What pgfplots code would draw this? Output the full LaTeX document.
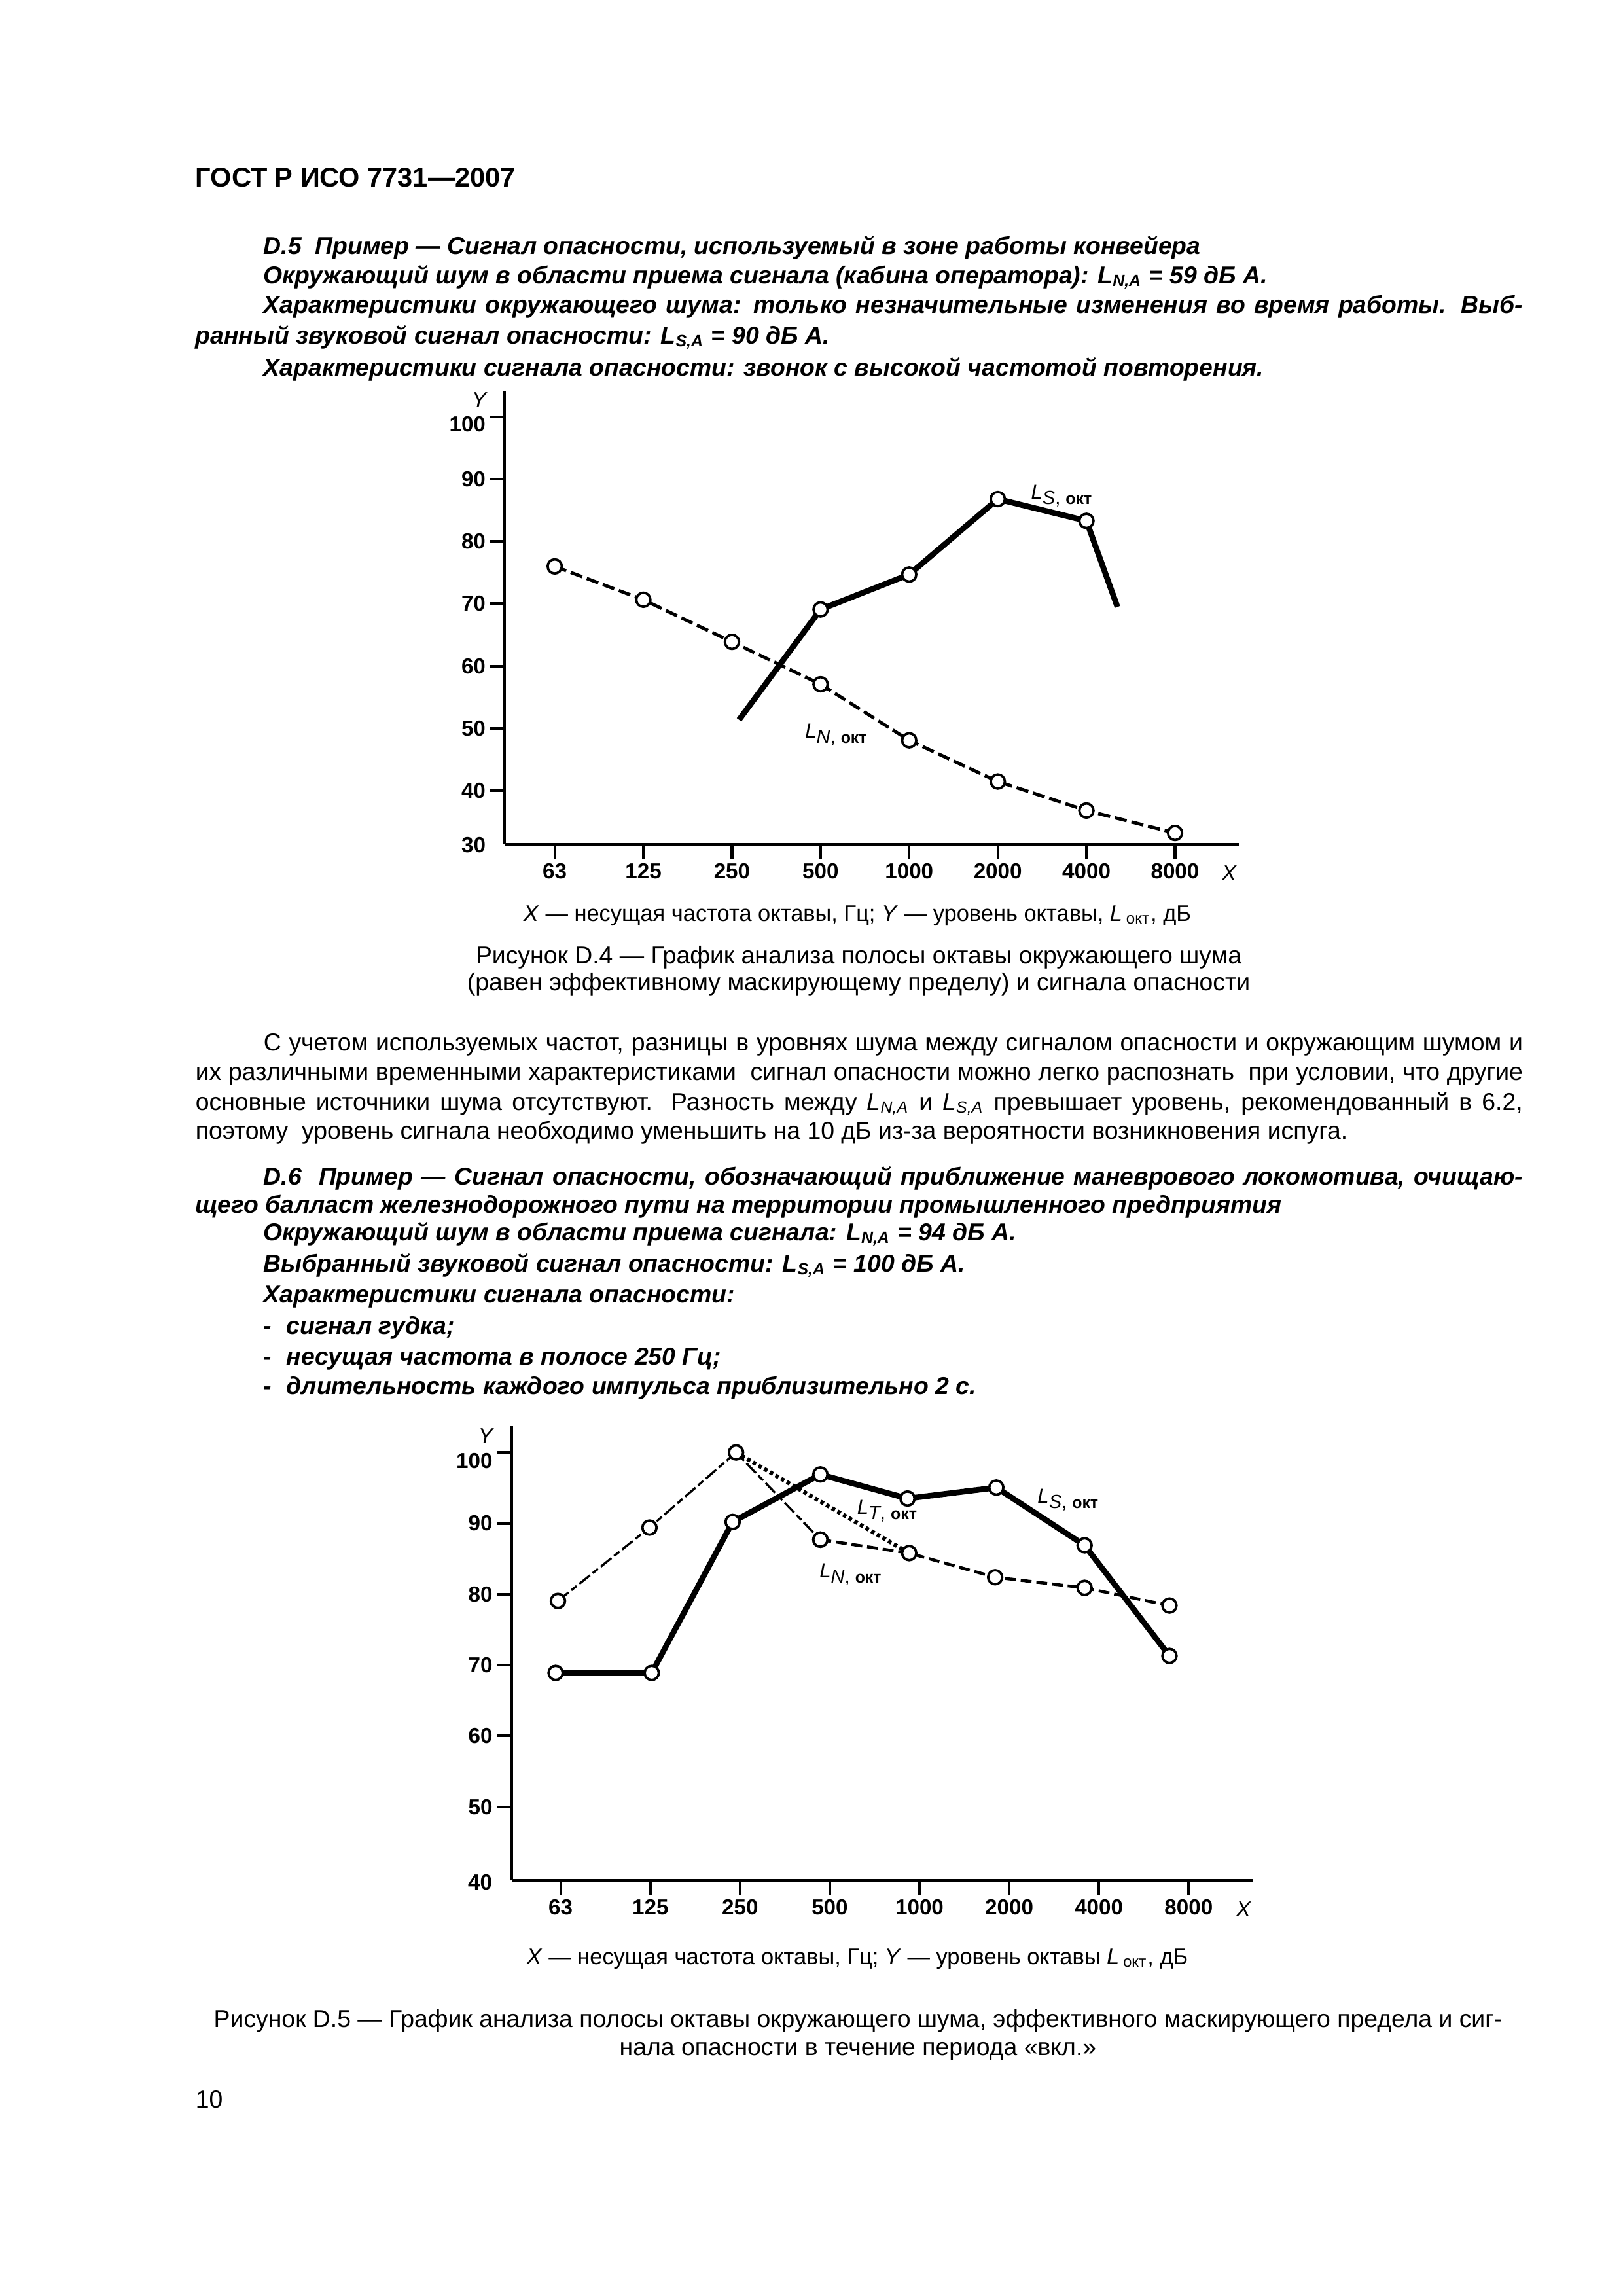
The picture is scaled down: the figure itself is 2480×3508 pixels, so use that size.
\documentclass[border=0pt]{standalone}
\usepackage{fontspec}
\setmainfont{Liberation Sans}
\usepackage{pgfplots}
\pgfplotsset{compat=1.18}

% one pixel of the 2480 x 3508 page
\newlength\pxu
\setlength\pxu{0.0846774mm}

\newcommand\bt{\fontsize{9}{11}\selectfont}
\newcommand\bbt{\fontsize{9}{11}\selectfont}
\newcommand\tl{\fontsize{8}{9}\selectfont\bfseries}
\newcommand\LNA{\textit{L}\textsubscript{\textit{N,A}}}
\newcommand\LSA{\textit{L}\textsubscript{\textit{S,A}}}
\newcommand\Lokt{\textit{L}\,\textsubscript{окт}}
\newcommand\Lab[1]{{\fontsize{7.5}{9}\selectfont\textit{L}}\raisebox{-8\pxu}{\fontsize{7}{8}\selectfont\textit{#1}, {\fontsize{6}{7}\selectfont\bfseries окт}}}

\pgfplotsset{
  gost/.style={
    scale only axis, axis lines=left, axis line style={-, line width=1pt},
    tick align=outside, major tick length=22\pxu,
    tick style={black, line width=1pt},
    tick label style={font=\tl, inner sep=1.5pt},
    xtick={0,...,7}, xticklabels={63,125,250,500,1000,2000,4000,8000},
    clip=false, set layers, mark layer=axis foreground,
  },
  circ/.style={mark=*, mark size=2.6pt, mark options={solid, fill=white, line width=0.9pt}},
}

\begin{document}
\begin{tikzpicture}[x=0.0846774mm, y=-0.0846774mm,
  gtx/.style={anchor=base west, inner sep=0pt, font=\bt},
  gbi/.style={anchor=base west, inner sep=0pt, font=\bbt\bfseries\itshape},
  gcap/.style={anchor=base, inner sep=0pt, font=\bt},
  glab/.style={anchor=base, inner sep=0pt, font=\fontsize{8}{9}\selectfont\itshape}]
\path (0,0) rectangle (2480,3508);

\node[anchor=base west, inner sep=0pt, font=\fontsize{10}{12}\selectfont\bfseries] at (298,285) {ГОСТ Р ИСО 7731—2007};

\node[gbi] at (402,388) {D.5~~Пример — Сигнал опасности, используемый в зоне работы конвейера};
\node[gbi] at (402,433) {Окружающий шум в области приема сигнала (кабина оператора): \LNA{} = 59 дБ А.};
\node[gbi] at (402,478) {\makebox[1924\pxu][s]{Характеристики окружающего шума: только незначительные изменения во время работы. Выб-}};
\node[gbi] at (298,525) {ранный звуковой сигнал опасности: \LSA{} = 90 дБ А.};
\node[gbi] at (402,574) {Характеристики сигнала опасности: звонок с высокой частотой повторения.};

% Figure D.4
\begin{axis}[gost, at={(771\pxu,-1290\pxu)}, anchor=south west,
  width=1122\pxu, height=693\pxu,
  xmin=-0.566, xmax=7.72, ymin=31.43, ymax=104.17,
  ytick={40,50,60,70,80,90}, yticklabels={40,50,60,70,80,90},
  extra y ticks={100}, extra y tick labels={100},
  extra y tick style={tick label style={yshift=-11\pxu}}]
\addplot[black, line width=1.2pt, dash pattern=on 4.5pt off 1.8pt, circ]
  coordinates {(0,76.0) (1,70.65) (2,63.9) (3,57.1) (4,48.1) (5,41.5) (6,36.85) (7,33.25)};
\addplot[black, line width=2.1pt, circ, mark indices={2,3,4,5}]
  coordinates {(2.08,51.4) (3,69.1) (4,74.7) (5,86.8) (6,83.3) (6.35,69.5)};
\node[anchor=base west, inner sep=0pt] at (axis cs:5.37,86.85) {\Lab{S}};
\node[anchor=base west, inner sep=0pt] at (axis cs:2.82,48.5) {\Lab{N}};
\end{axis}
\node[anchor=east, inner sep=0pt, font=\tl] at (743,1291) {30};
\node[glab] at (732,622) {Y};
\node[glab] at (1878,1345) {X};

\node[gcap, font=\fontsize{8.3}{10}\selectfont] at (1310,1407) {\textit{X} — несущая частота октавы, Гц; \textit{Y} — уровень октавы, \Lokt, дБ};
\node[gcap] at (1312,1472) {Рисунок D.4 — График анализа полосы октавы окружающего шума};
\node[gcap] at (1312,1513) {(равен эффективному маскирующему пределу) и сигнала опасности};

\node[gtx] at (402,1605) {\makebox[1924\pxu][s]{С учетом используемых частот, разницы в уровнях шума между сигналом опасности и окружающим шумом и}};
\node[gtx] at (298,1650) {\makebox[2028\pxu][s]{их различными временными характеристиками~ сигнал опасности можно легко распознать~ при условии, что другие}};
\node[gtx] at (298,1696) {\makebox[2028\pxu][s]{основные источники шума отсутствуют. Разность между \LNA{} и \LSA{} превышает уровень, рекомендованный в 6.2,}};
\node[gtx] at (298,1740) {поэтому~ уровень сигнала необходимо уменьшить на 10 дБ из-за вероятности возникновения испуга.};

\node[gbi] at (402,1810) {\makebox[1924\pxu][s]{D.6~~Пример — Сигнал опасности, обозначающий приближение маневрового локомотива, очищаю-}};
\node[gbi] at (298,1853) {щего балласт железнодорожного пути на территории промышленного предприятия};
\node[gbi] at (402,1895) {Окружающий шум в области приема сигнала: \LNA{} = 94 дБ А.};
\node[gbi] at (402,1943) {Выбранный звуковой сигнал опасности: \LSA{} = 100 дБ А.};
\node[gbi] at (402,1990) {Характеристики сигнала опасности:};
\node[gbi] at (402,2038) {-}; \node[gbi] at (437,2038) {сигнал гудка;};
\node[gbi] at (402,2085) {-}; \node[gbi] at (437,2085) {несущая частота в полосе 250 Гц;};
\node[gbi] at (402,2130) {-}; \node[gbi] at (437,2130) {длительность каждого импульса приблизительно 2 с.};

% Figure D.5
\begin{axis}[gost, at={(781.7\pxu,-2873.3\pxu)}, anchor=south west,
  width=1133.3\pxu, height=695.3\pxu,
  xmin=-0.547, xmax=7.72, ymin=39.6, ymax=103.8,
  ytick={50,60,70,80,90}, yticklabels={50,60,70,80,90},
  extra y ticks={100}, extra y tick labels={100},
  extra y tick style={tick label style={yshift=-13\pxu}}]
\addplot[black, line width=0.8pt, dash pattern=on 5pt off 1.3pt on 2.5pt off 1.3pt, circ]
  coordinates {(-0.03,79.05) (0.99,89.4) (1.955,100) (2.895,87.7)};
\addplot[black, line width=1.1pt, dash pattern=on 4pt off 1.8pt, circ]
  coordinates {(2.895,87.7) (3.885,85.8) (4.843,82.4) (5.84,80.9) (6.786,78.4)};
\addplot[black, line width=1.5pt, dash pattern=on 1.3pt off 1.1pt]
  coordinates {(1.955,100) (3.885,85.8)};
\addplot[black, line width=2.1pt, circ]
  coordinates {(-0.056,68.9) (1.015,68.9) (1.917,90.2) (2.895,96.9) (3.866,93.5) (4.856,95.05) (5.84,86.9) (6.786,71.3)};
\node[anchor=base west, inner sep=0pt] at (axis cs:3.30,91.3) {\Lab{T}};
\node[anchor=base west, inner sep=0pt] at (axis cs:2.88,82.3) {\Lab{N}};
\node[anchor=base west, inner sep=0pt] at (axis cs:5.31,92.9) {\Lab{S}};
\end{axis}
\node[anchor=east, inner sep=0pt, font=\tl] at (753,2876) {40};
\node[glab] at (742,2205) {Y};
\node[glab] at (1900,2928) {X};

\node[gcap, font=\fontsize{8.3}{10}\selectfont] at (1310,3001) {\textit{X} — несущая частота октавы, Гц; \textit{Y} — уровень октавы \Lokt, дБ};
\node[gcap] at (1311,3097) {Рисунок D.5 — График анализа полосы октавы окружающего шума, эффективного маскирующего предела и сиг-};
\node[gcap] at (1311,3140) {нала опасности в течение периода «вкл.»};

\node[gtx] at (298,3220) {10};
\end{tikzpicture}
\end{document}
